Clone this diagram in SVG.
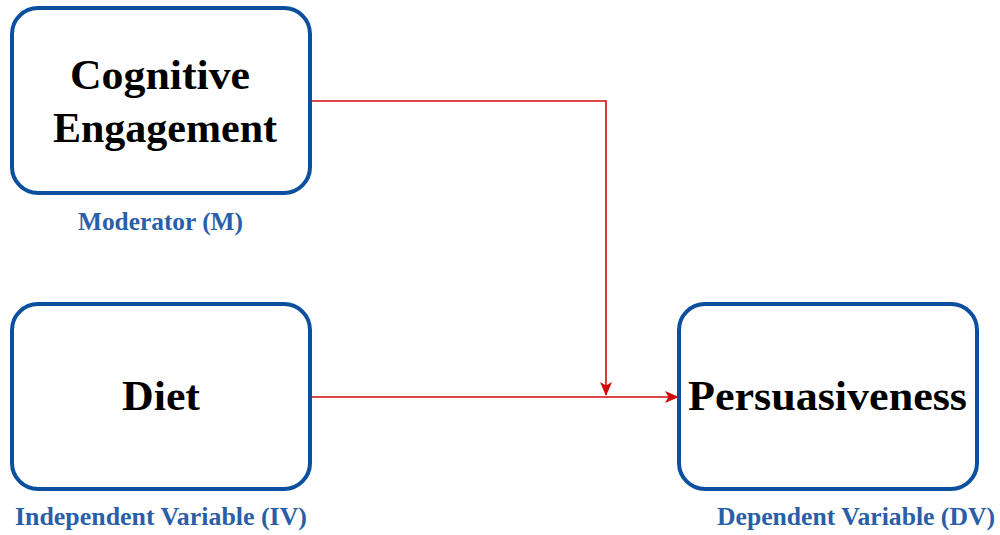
<svg xmlns="http://www.w3.org/2000/svg" width="1000" height="535" viewBox="0 0 1000 535">
<defs>
<marker id="arr" viewBox="0 0 14 12" refX="13" refY="6" markerWidth="14" markerHeight="12" markerUnits="userSpaceOnUse" orient="auto">
<path d="M0,0 L14,6 L0,12 L3.5,6 Z" fill="#d10a0a"/>
</marker>
<style>
.box{fill:#fff;stroke:#0c4f9f;stroke-width:4}
.t{font-family:"Liberation Serif","Times New Roman",serif;font-weight:bold;font-size:42px;fill:#000;text-anchor:middle}
.lbl{font-family:"Liberation Serif","Times New Roman",serif;font-weight:bold;font-size:25px;fill:#2a5fa8;text-anchor:middle}
.c{fill:none;stroke:#d10a0a;stroke-width:1.6}
</style>
</defs>
<rect width="1000" height="535" fill="#fff"/>
<g id="connectors">
<path class="c" d="M310,101 H606 V395" marker-end="url(#arr)"/>
<path class="c" d="M310,397 H678" marker-end="url(#arr)"/>
</g>
<g id="cognitive">
<rect class="box" x="12" y="8" width="298" height="185" rx="26"/>
<text class="t" x="160" y="89" textLength="180" lengthAdjust="spacingAndGlyphs">Cognitive</text>
<text class="t" x="165" y="142" textLength="224" lengthAdjust="spacingAndGlyphs">Engagement</text>
<text class="lbl" x="160.5" y="230" textLength="165" lengthAdjust="spacingAndGlyphs">Moderator (M)</text>
</g>
<g id="diet">
<rect class="box" x="12" y="304" width="298" height="185" rx="26"/>
<text class="t" x="161" y="410" textLength="78" lengthAdjust="spacingAndGlyphs">Diet</text>
<text class="lbl" x="161" y="525" textLength="292" lengthAdjust="spacingAndGlyphs">Independent Variable (IV)</text>
</g>
<g id="persuasiveness">
<rect class="box" x="679" y="304" width="298" height="185" rx="26"/>
<text class="t" x="827.5" y="410" textLength="279" lengthAdjust="spacingAndGlyphs">Persuasiveness</text>
<text class="lbl" x="856" y="525" textLength="278" lengthAdjust="spacingAndGlyphs">Dependent Variable (DV)</text>
</g>
</svg>
